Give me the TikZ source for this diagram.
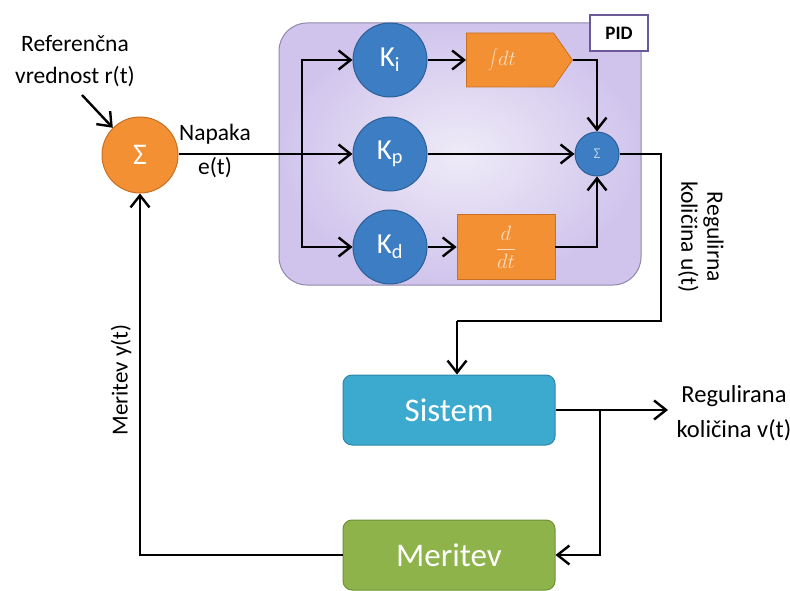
\documentclass[tikz,border=0pt]{standalone}
\usepackage{fontspec}
\setmainfont{Carlito}
\usetikzlibrary{arrows.meta,shapes.symbols}
\definecolor{orng}{HTML}{F39034}
\definecolor{orngd}{HTML}{C97025}
\definecolor{kblue}{HTML}{3D7DC3}
\definecolor{kblued}{HTML}{2C5F98}
\definecolor{sysc}{HTML}{3CA9CF}
\definecolor{sysd}{HTML}{2D87A8}
\definecolor{merc}{HTML}{8DB34A}
\definecolor{merd}{HTML}{6F9236}
\definecolor{pidbg}{HTML}{D0C4EC}
\definecolor{pidin}{HTML}{EFEBF8}
\definecolor{pidb}{HTML}{9088AA}
\definecolor{pidtag}{HTML}{6A5A9A}
\definecolor{lighttxt}{HTML}{F8DEC0}
\definecolor{sigtxt}{HTML}{B8D4F0}
\tikzset{
  wire/.style={line width=2.4pt, black},
  conn/.style={wire, -{Straight Barb[length=12pt,width=19pt]}},
  kcirc/.style={circle, fill=kblue, draw=kblued, line width=1pt, minimum size=74pt,
    inner sep=0pt, text=white, font=\fontsize{29}{31}\selectfont},
  obox/.style={fill=orng, draw=orngd, line width=0.8pt, text=lighttxt},
  bigbox/.style={rounded corners=9pt, line width=1pt, minimum width=212pt,
    minimum height=70pt, text=white, font=\fontsize{33}{36}\selectfont},
  lbl/.style={font=\fontsize{23.5}{26}\selectfont, align=center, inner sep=0pt},
}
\begin{document}
\begin{tikzpicture}[x=1pt,y=-1pt]
\path[use as bounding box] (0,0) rectangle (790,591);

% PID background
\node[rounded corners=28pt, draw=pidb, line width=1pt, inner color=pidin, outer color=pidbg,
  minimum width=362pt, minimum height=262pt, inner sep=0pt] (pid) at (460,154) {};
\node[draw=pidtag, fill=white, line width=1.2pt, minimum width=58pt, minimum height=36pt,
  inner sep=0pt, font=\bfseries\fontsize{19}{21}\selectfont] (pidtag) at (619,33) {PID};

% main summing junction
\node[circle, fill=orng, draw=orngd, line width=1pt, minimum size=76pt, inner sep=0pt,
  text=white, font=\fontsize{30}{32}\selectfont] (sum) at (140,155) {Σ};

% gains
\node[kcirc] (ki) at (390,60) {K\textsubscript{i}};
\node[kcirc] (kp) at (390,154) {K\textsubscript{p}};
\node[kcirc] (kd) at (390,247) {K\textsubscript{d}};

% integral and derivative blocks
\node[obox, shape=signal, signal to=east, signal pointer angle=110, minimum width=106pt,
  minimum height=54pt, inner sep=0pt, font=\fontsize{22}{24}\selectfont] (int) at (510,60)
  {\hspace*{-16pt}$\displaystyle\int\! dt$};
\node[obox, minimum width=98pt, minimum height=65pt, inner sep=0pt,
  font=\fontsize{22}{24}\selectfont] (der) at (506,247) {$\displaystyle\frac{d}{dt}$};

% small summing junction
\node[circle, fill=kblue, draw=kblued, line width=1pt, minimum size=44pt, inner sep=0pt,
  text=sigtxt, font=\fontsize{15}{16}\selectfont] (psum) at (597,154) {Σ};

% system and measurement
\node[bigbox, fill=sysc, draw=sysd] (sys) at (449,410) {Sistem};
\node[bigbox, fill=merc, draw=merd] (mer) at (449,555) {Meritev};

% labels
\node[lbl] (ref) at (75,61) {Referenčna\\[6pt]vrednost r(t)};
\coordinate (refstart) at (82,95);
\node[lbl] (err) at (215,151) {Napaka\\[8pt]e(t)};
\node[lbl, rotate=-90] (ulbl) at (701,237) {Regulirna\\[0pt]količina u(t)};
\node[lbl, font=\fontsize{24.5}{27}\selectfont] (vlbl) at (734,413) {Regulirana\\[8pt]količina v(t)};
\node[lbl, rotate=90, font=\fontsize{23}{25}\selectfont] (ylbl) at (121,380) {Meritev y(t)};

% coordinates
\coordinate (br) at (302,154);
\coordinate (uR) at (661,154);
\coordinate (uD) at (661,321);
\coordinate (uL) at (457,321);
\coordinate (vbr) at (600,410);
\coordinate (vend) at (668,410);

% connectors
\draw[conn] (refstart) -- (sum.135);
\draw[conn] (sum.east |- kp.west) -- (kp.west);
\draw[conn] (br) |- (ki.west);
\draw[conn] (br) |- (kd.west);
\draw[conn] (ki.east) -- (int.west);
\draw[conn] (kd.east) -- (der.west);
\draw[conn] (kp.east) -- (psum.west);
\draw[conn] (int.east) -| (psum.north);
\draw[conn] (der.east) -| (psum.south);
\draw[wire] (psum.east) -- (uR) -- (uD) -- (uL);
\draw[conn] (uL) -- (uL |- sys.north);
\draw[conn] (sys.east) -- (vend);
\draw[conn] (vbr) |- (mer.east);
\draw[conn] (mer.west) -| (sum.south);
\end{tikzpicture}
\end{document}
